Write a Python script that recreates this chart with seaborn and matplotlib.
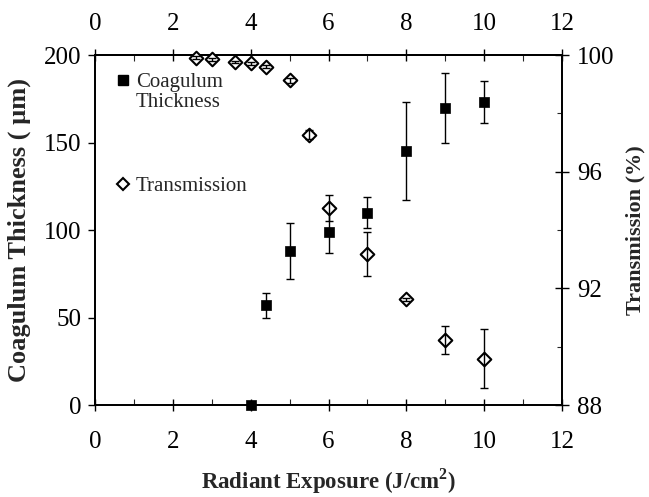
import matplotlib
matplotlib.use("Agg")
import matplotlib.pyplot as plt
from matplotlib.lines import Line2D
from matplotlib.ticker import MultipleLocator
import numpy as np
import pandas as pd
import seaborn as sns

# Coagulum thickness (left axis)
coag_x = [4.0, 4.4, 5.0, 6.0, 7.0, 8.0, 9.0, 10.0]
coag_y = [0, 57, 88, 99, 110, 145, 170, 173]
coag_err = [0, 7, 16, 12, 9, 28, 20, 12]

# Transmission (right axis)
trans_x = [2.6, 3.0, 3.6, 4.0, 4.4, 5.0, 5.5, 6.0, 7.0, 8.0, 9.0, 10.0]
trans_y = [99.9, 99.85, 99.76, 99.71, 99.6, 99.13, 97.27, 94.76, 93.17, 91.62, 90.23, 89.59]
trans_err = [0.05, 0.05, 0.05, 0.05, 0.05, 0.08, 0.15, 0.45, 0.75, 0.05, 0.47, 1.0]

x_ticks = [0, 2, 4, 6, 8, 10, 12]
left_ticks = [0, 50, 100, 150, 200]
right_ticks = [88, 92, 96, 100]

sns.set_style("ticks")
plt.rcParams["font.family"] = ["Liberation Serif", "DejaVu Serif"]
plt.rcParams["mathtext.fontset"] = "custom"
plt.rcParams["mathtext.rm"] = "Liberation Serif"
plt.rcParams["mathtext.bf"] = "Liberation Serif:bold"

fig = plt.figure(figsize=(6.49, 4.97), dpi=100)
ax = fig.add_axes([0.1464, 0.1851, 0.7196, 0.7042])
ax2 = ax.twinx()

coag = pd.DataFrame({"x": coag_x, "y": coag_y, "e": coag_err})
trans = pd.DataFrame({"x": trans_x, "y": trans_y, "e": trans_err})

ax.errorbar(coag["x"], coag["y"], yerr=coag["e"], fmt="none", ecolor="black",
            elinewidth=1.0, capsize=2.8, capthick=1.0, zorder=3)
sns.scatterplot(data=coag, x="x", y="y", ax=ax, marker="s", s=55, color="black",
                edgecolor="black", linewidth=0.5, zorder=4, clip_on=False)

sns.scatterplot(data=trans, x="x", y="y", ax=ax2, marker="D", s=48, color="white",
                edgecolor="black", linewidth=1.5, zorder=3, clip_on=False)
ax2.errorbar(trans["x"], trans["y"], yerr=trans["e"], fmt="none", ecolor="black",
             elinewidth=1.0, capsize=2.8, capthick=1.0, zorder=4)

ax.set_xlim(0, 12)
ax.set_ylim(0, 200)
ax2.set_ylim(88, 100)
ax.set_xticks(x_ticks)
ax.xaxis.set_minor_locator(MultipleLocator(1))
ax.set_yticks(left_ticks)
ax2.set_yticks(right_ticks)
ax2.yaxis.set_minor_locator(MultipleLocator(2))

for a in (ax, ax2):
    for s in a.spines.values():
        s.set_visible(True)
        s.set_linewidth(1.3)
        s.set_color("black")

# top axis (same scale)
top = ax.secondary_xaxis("top")
top.set_xticks(x_ticks)
top.xaxis.set_minor_locator(MultipleLocator(1))
top.spines["top"].set_linewidth(1.3)
top.tick_params(axis="x", which="major", direction="inout", length=9, width=1.0,
                labelsize=18, pad=10, colors="black")
top.tick_params(axis="x", which="minor", direction="in", length=4, width=0.8)

ax.tick_params(axis="x", which="major", bottom=True, top=False, direction="inout",
               length=9, width=1.0, labelsize=18, pad=14, colors="black")
ax.tick_params(axis="x", which="minor", bottom=True, top=False, direction="in",
               length=4, width=0.8)
ax.tick_params(axis="y", which="major", direction="out", length=5, width=1.0,
               labelsize=18, pad=5, colors="black")
ax2.tick_params(axis="y", which="major", direction="inout", length=10, width=1.0,
                labelsize=18, pad=6, colors="black")
ax2.tick_params(axis="y", which="minor", direction="in", length=3.6, width=0.8)

ax.set_xlabel(r"Radiant Exposure (J/cm$^\mathbf{2}$)", fontsize=16.5, fontweight="bold", labelpad=10)
ax.set_ylabel("Coagulum Thickness ( µm)", fontsize=19, fontweight="bold", labelpad=9)
ax2.set_ylabel("Transmission (%)", fontsize=16, fontweight="bold", labelpad=8)

sq = Line2D([], [], marker="s", linestyle="none", markersize=7, markerfacecolor="black",
            markeredgecolor="black")
blank = Line2D([], [], linestyle="none", marker=None)
dm = Line2D([], [], marker="D", linestyle="none", markersize=6.5, markerfacecolor="white",
            markeredgecolor="black", markeredgewidth=1.5)

leg1 = ax.legend([sq, blank], ["Coagulum", "Thickness"], loc="upper left",
                 bbox_to_anchor=(0.047, 0.95), frameon=False, fontsize=15,
                 handlelength=0.6, handletextpad=0.3, labelspacing=0.0,
                 borderpad=0, borderaxespad=0)
ax.add_artist(leg1)
leg2 = ax.legend([dm], ["Transmission"], loc="upper left",
                 bbox_to_anchor=(0.047, 0.652), frameon=False, fontsize=15,
                 handlelength=0.6, handletextpad=0.3, borderpad=0, borderaxespad=0)

fig.savefig("out.png", dpi=100)
